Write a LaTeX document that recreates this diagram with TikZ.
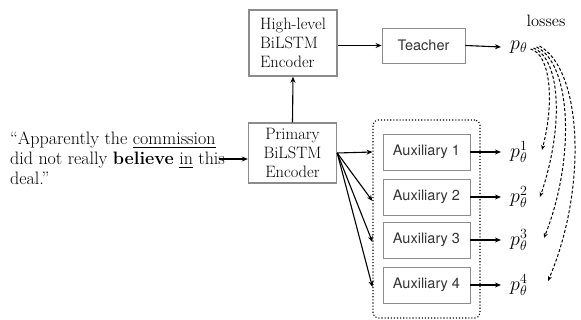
\RequirePackage{fix-cm}
\documentclass[tikz,border=0pt]{standalone}
\usepackage{fontspec}
\usepackage{amsmath,amssymb}
\usepackage{xcolor}
\usepackage{tikz}
\usetikzlibrary{arrows.meta}
\newfontfamily\heros{TeX Gyre Heros}
\definecolor{boxgray}{HTML}{8C8C8C}
\definecolor{auxink}{HTML}{333333}

\begin{document}
\begin{tikzpicture}[x=1pt,y=-1pt,
    encbox/.style={draw=boxgray,line width=1.4pt,minimum width=88pt,minimum height=60pt,
      font=\fontsize{16.5}{19}\selectfont,inner sep=2pt},
    taskbox/.style={draw=boxgray,line width=0.9pt,minimum width=87pt,minimum height=36pt,
      font=\heros\fontsize{14.5}{16}\selectfont,text=auxink},
    arr/.style={line width=1.1pt,-{Stealth[length=6pt,width=5pt]}},
    lossarr/.style={line width=1pt,densely dashed,-{Stealth[length=5pt,width=4pt]}},
    prob/.style={font=\fontsize{20}{22}\selectfont,inner sep=1pt,inner xsep=9pt,anchor=west}]
  \useasboundingbox (0,0) rectangle (581,320);
  % sentence and encoders
  \node[align=left,anchor=west,font=\fontsize{18}{20}\selectfont,inner sep=0pt] (sent) at (10,158.5)
    {``Apparently the \underline{commission}\\did not really \textbf{believe} \underline{in} this\\deal.''};
  \coordinate (src) at (219,159);
  \node[encbox,align=center] (prim) at (292.5,153) {Primary\\BiLSTM\\Encoder};
  \node[encbox,align=left,minimum height=66pt] (hl) at (293,43) {High-level\\BiLSTM\\Encoder};
  \node[taskbox,minimum width=83pt,minimum height=35pt] (teacher) at (423.5,45.5) {Teacher};
  \node[prob] (pt) at (501,47) {$p_\theta$};
  \node[font=\fontsize{11}{13}\selectfont,scale=1.5] (losses) at (546,21) {losses};
  % auxiliary group
  \node[draw,dotted,line width=1.1pt,rounded corners=5pt,minimum width=107pt,minimum height=198pt] (grp) at (426.5,219) {};
  \foreach \i/\y in {1/152,2/197,3/240,4/285} {
    \node[taskbox] (aux\i) at (426.5,\y) {Auxiliary \i};
    \node[prob] (p\i) at (501,\y) {$p_\theta^{\i}$};
    \draw[arr] (aux\i.east) -- (p\i.west);
  }
  \draw[arr] (src) -- (prim.west |- src);
  \draw[arr] (prim.north) -- (hl.south);
  \draw[arr] (hl.east |- teacher) -- (teacher.west);
  \draw[arr] (teacher.east) -- (pt.west);
  \draw[arr] (prim.east) -- (grp.west |- aux1);
  \draw[arr] (prim.east) -- ([yshift=-4pt]grp.west |- aux2);
  \draw[arr] (prim.east) -- ([yshift=-2pt]grp.west |- aux3);
  \draw[arr] (prim.east) -- ([yshift=-2pt]grp.west |- aux4);
  % distillation losses
  \coordinate (l1) at (542,150);
  \coordinate (l2) at (540,197);
  \coordinate (l3) at (544,238);
  \coordinate (l4) at (548,281);
  \draw[lossarr] ([xshift=-6pt,yshift=-2pt]pt.east) .. controls (550,54) and (555,100) .. (l1);
  \draw[lossarr] ([xshift=-3pt,yshift=-1pt]pt.east) .. controls (562,60) and (563,130) .. (l2);
  \draw[lossarr] ([xshift=0pt,yshift=0pt]pt.east) .. controls (572,64) and (575,160) .. (l3);
  \draw[lossarr] ([xshift=3pt,yshift=1pt]pt.east) .. controls (583,70) and (587,190) .. (l4);
\end{tikzpicture}
\end{document}
